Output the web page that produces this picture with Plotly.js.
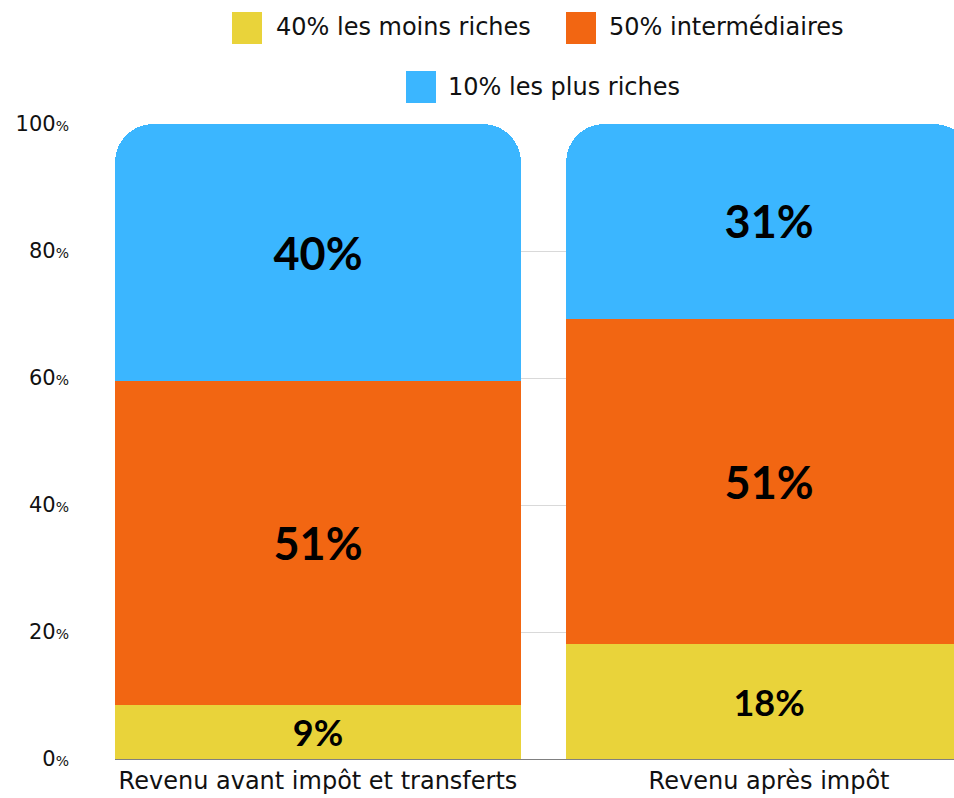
<!DOCTYPE html>
<html>
<head>
<meta charset="utf-8">
<script src="https://cdn.plot.ly/plotly-3.0.1.min.js"></script>
<style>
  html, body { margin: 0; padding: 0; background: #fff; overflow: hidden; }
  #chart { width: 954px; height: 798px; }
</style>
</head>
<body>
<div id="chart"></div>
<script>
// Répartition du revenu par groupe, avant / après impôt
const categories = ["Revenu avant impôt et transferts", "Revenu après impôt"];
const seriesNames = ["40% les moins riches", "50% intermédiaires", "10% les plus riches"];
const seriesColors = ["#E9D33A", "#F26612", "#3BB6FF"];
const bottom40 = [8.5, 18.1];
const middle50 = [51.0, 51.2];
const top10 = [40.5, 30.7];
const bottom40Labels = ["9%", "18%"];
const middle50Labels = ["51%", "51%"];
const top10Labels = ["40%", "31%"];
const yTicks = [0, 20, 40, 60, 80, 100];

const FONT_AXIS = "DejaVu Sans, Noto Sans, sans-serif";
const FONT_LABEL = "Lato, Noto Sans, sans-serif";

// repère en pixels -> coordonnées papier
const PLOT_L = 115, PLOT_R = 954, PLOT_T = 124, PLOT_B = 759;
const px = x => (x - PLOT_L) / (PLOT_R - PLOT_L);
const py = y => (PLOT_B - y) / (PLOT_B - PLOT_T);

function barTrace(values, labels, name, color, size) {
  return {
    type: "bar",
    x: categories,
    y: values,
    name: name,
    text: labels,
    texttemplate: "%{text}",
    textposition: "inside",
    insidetextanchor: "middle",
    textangle: 0,
    textfont: { family: FONT_LABEL, size: size, color: "#000", weight: 700 },
    marker: { color: color, line: { width: 0 }, cornerradius: 38 },
    hoverinfo: "skip",
    showlegend: false,
  };
}

const traces = [
  barTrace(bottom40, bottom40Labels, seriesNames[0], seriesColors[0], 36),
  barTrace(middle50, middle50Labels, seriesNames[1], seriesColors[1], 45),
  barTrace(top10, top10Labels, seriesNames[2], seriesColors[2], 45),
];

// légende dessinée à la main (carrés larges)
const legendItems = [
  { sx: 232, sy: 12, tx: 274, ty: 27 },
  { sx: 566, sy: 12, tx: 607, ty: 27 },
  { sx: 406, sy: 71, tx: 446, ty: 87 },
];
const shapes = legendItems.map((it, i) => ({
  type: "rect", xref: "paper", yref: "paper",
  x0: px(it.sx), x1: px(it.sx + 30), y0: py(it.sy), y1: py(it.sy + 32),
  fillcolor: seriesColors[i], line: { width: 0 },
}));
const annotations = legendItems.map((it, i) => ({
  xref: "paper", yref: "paper", x: px(it.tx), y: py(it.ty),
  xanchor: "left", yanchor: "middle", showarrow: false,
  text: seriesNames[i],
  font: { family: FONT_AXIS, size: 24, color: "#111" },
}));

const layout = {
  width: 954,
  height: 798,
  paper_bgcolor: "#fff",
  plot_bgcolor: "#fff",
  barmode: "stack",
  bargap: 0.1,
  margin: { l: PLOT_L, r: 954 - PLOT_R, t: PLOT_T, b: 798 - PLOT_B },
  showlegend: false,
  xaxis: {
    type: "category",
    range: [-0.45, 1.41],
    showgrid: false,
    zeroline: false,
    showline: false,
    ticks: "",
    ticklabelstandoff: 5,
    tickfont: { family: FONT_AXIS, size: 24, color: "#111" },
  },
  yaxis: {
    range: [0, 100],
    tickvals: yTicks,
    ticktext: yTicks.map(v => v + "<span style='font-size:14px'>%</span>"),
    tickfont: { family: FONT_AXIS, size: 21, color: "#111" },
    ticklabelstandoff: 45,
    gridcolor: "#d9d9d9",
    gridwidth: 1,
    zeroline: true,
    zerolinecolor: "#808080",
    zerolinewidth: 1,
    showline: false,
    ticks: "",
  },
  shapes: shapes,
  annotations: annotations,
};

Plotly.newPlot("chart", traces, layout, { displayModeBar: false, responsive: false });
</script>
</body>
</html>
